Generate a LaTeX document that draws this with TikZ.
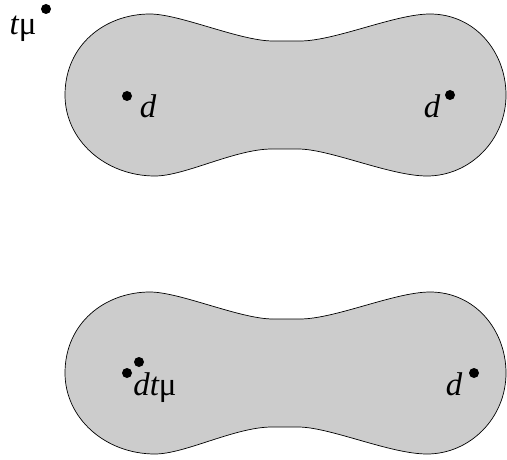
\documentclass[tikz,border=0pt]{standalone}
\usepackage{fontspec}
\setmainfont{Liberation Serif}
\usepackage{tikz}
\tikzset{
  blob region/.style={
    fill=black!20,
    draw=black,
    line width=0.7bp,
  },
  pt dot/.style={
    circle,
    fill=black,
    inner sep=0pt,
    minimum size=10bp,
  },
  pt label/.style={
    anchor=base,
    inner sep=0pt,
    font=\fontsize{33}{38}\selectfont,
  },
}

\begin{document}
\begin{tikzpicture}[x=1bp,y=-1bp]
  \useasboundingbox (0,0) rectangle (507,460);
  % the two regions, same outline
  \foreach \dy in {0,278} {
    \draw[blob region,shift={(0,\dy)}]
      (65,95) .. controls (65,45) and (105,14) .. (150,14)
      .. controls (180,14) and (240,41) .. (273,41)
      -- (300,41)
      .. controls (335,41) and (395,14) .. (430,14)
      .. controls (475,14) and (506,52) .. (506,95)
      .. controls (506,140) and (470,176) .. (427,176)
      .. controls (390,176) and (330,149) .. (298,149)
      -- (272,149)
      .. controls (235,149) and (185,176) .. (155,176)
      .. controls (105,176) and (65,140) .. (65,95) -- cycle;
  }
  % upper picture
  \node[pt dot] (tmu dot) at (46,9) {};
  \node[pt label] (tmu) at (23,35) {\itshape t\upshape μ};
  \node[pt dot] (left dot) at (127,96) {};
  \node[pt label] (left d) at (148,118) {\itshape d};
  \node[pt dot] (right dot) at (450,95) {};
  \node[pt label] (right d) at (432,118) {\itshape d};
  % lower picture
  \node[pt dot] (low tmu dot) at (139,362) {};
  \node[pt dot] (low left dot) at (127,373) {};
  \node[pt label] (low left d) at (155,395) {\itshape dt\upshape μ};
  \node[pt dot] (low right dot) at (474,373) {};
  \node[pt label] (low right d) at (454,395) {\itshape d};
\end{tikzpicture}
\end{document}
